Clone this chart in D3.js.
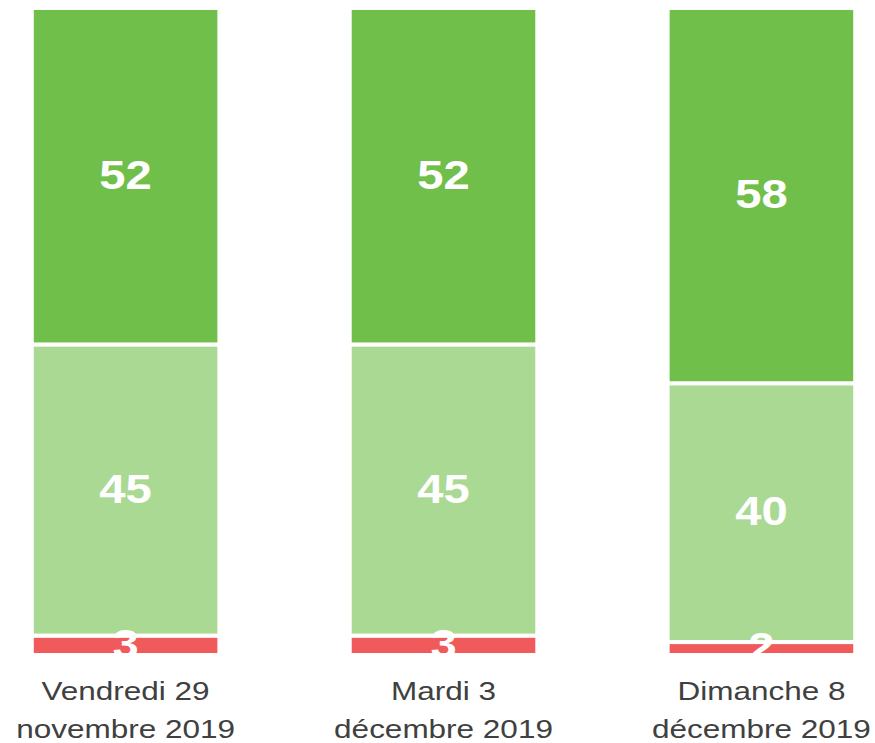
<!DOCTYPE html>
<html>
<head>
<meta charset="utf-8">
<script src="https://cdn.jsdelivr.net/npm/d3@7"></script>
<style>
  html, body { margin: 0; padding: 0; background: #ffffff; }
  svg { display: block; }
</style>
</head>
<body>
<svg id="chart" width="875" height="743"></svg>
<script>
// ---- data ----
const categories = [
  ["Vendredi 29", "novembre 2019"],
  ["Mardi 3", "décembre 2019"],
  ["Dimanche 8", "décembre 2019"]
];
const seriesNames = ["rouge", "vert clair", "vert foncé"];
const redValues = [3, 3, 2];
const lightGreenValues = [45, 45, 40];
const darkGreenValues = [52, 52, 58];
const seriesColors = ["#f15a5a", "#aad994", "#70bf4b"];

// ---- layout ----
const svg = d3.select("#chart");
const yTop = 8, yBottom = 655;
const fontFamily = "'Liberation Sans', Arial, Helvetica, sans-serif";

const rows = categories.map((c, i) => ({
  key: i,
  rouge: redValues[i],
  "vert clair": lightGreenValues[i],
  "vert foncé": darkGreenValues[i]
}));

const stacked = d3.stack().keys(seriesNames)(rows);

const x = d3.scaleBand()
  .domain(rows.map(d => d.key))
  .range([0, 887])
  .paddingInner(0.41)
  .paddingOuter(0.1);

const y = d3.scaleLinear().domain([0, 100]).range([yBottom, yTop]);

const color = d3.scaleOrdinal().domain(seriesNames).range(seriesColors);

const layers = svg.append("g").selectAll("g")
  .data(stacked)
  .join("g")
  .attr("fill", d => color(d.key));

layers.selectAll("rect")
  .data(d => d)
  .join("rect")
  .attr("x", d => x(d.data.key))
  .attr("width", x.bandwidth())
  .attr("y", d => y(d[1]))
  .attr("height", d => y(d[0]) - y(d[1]))
  .attr("stroke", "#ffffff")
  .attr("stroke-width", 4);

// value labels
const labels = svg.append("g");
stacked.forEach(layer => {
  layer.forEach(d => {
    const cx = x(d.data.key) + x.bandwidth() / 2;
    const cy = (y(d[0]) + y(d[1])) / 2;
    labels.append("text")
      .attr("transform", `translate(${cx},${cy}) scale(1.15,1)`)
      .attr("dy", "0.31em")
      .attr("text-anchor", "middle")
      .attr("font-family", fontFamily)
      .attr("font-weight", "bold")
      .attr("font-size", 41)
      .attr("fill", "#ffffff")
      .text(d[1] - d[0]);
  });
});

// category labels
const axis = svg.append("g");
rows.forEach((r, i) => {
  const cx = x(r.key) + x.bandwidth() / 2;
  const t = axis.append("text")
    .attr("transform", `translate(${cx},700) scale(1.26,1)`)
    .attr("text-anchor", "middle")
    .attr("font-family", fontFamily)
    .attr("font-size", 25)
    .attr("fill", "#404040");
  categories[i].forEach((line, j) => {
    t.append("tspan")
      .attr("x", 0)
      .attr("dy", j === 0 ? 0 : 38)
      .text(line);
  });
});
</script>
</body>
</html>
